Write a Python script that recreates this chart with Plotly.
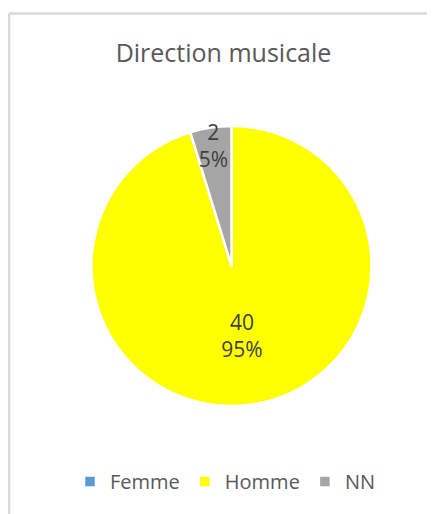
import plotly.graph_objects as go

labels = ["Femme", "Homme", "NN"]
values = [0, 40, 2]
colors = ["#5B9BD5", "#FFFF00", "#A5A5A5"]
title_text = "Direction musicale"

W, H = 435, 514
label_tpl = "%{value}<br>%{percent:.0%}"
templates = ["" if v == 0 else label_tpl for v in values]

fig = go.Figure(go.Pie(
    labels=labels,
    values=values,
    sort=False,
    direction="clockwise",
    rotation=0,
    marker=dict(colors=colors, line=dict(color="white", width=2.5)),
    texttemplate=templates,
    textposition="inside",
    insidetextorientation="horizontal",
    textfont=dict(family="Open Sans", size=21, color="#404040"),
    hoverinfo="label+value+percent",
    domain=dict(x=[83.5 / W, 363.5 / W], y=[1 - 398.5 / H, 1 - 117.5 / H]),
))

fig.update_layout(
    width=W, height=H,
    margin=dict(l=0, r=0, t=0, b=0),
    paper_bgcolor="white",
    plot_bgcolor="white",
    title=dict(text=title_text, x=(223.5 - 8) / W, xanchor="center", y=1 - 45 / H, yanchor="middle",
               font=dict(family="Open Sans", size=25, color="#595959")),
    showlegend=True,
    legend=dict(orientation="h", x=(225 - 8) / W, xanchor="center", y=1 - 473.5 / H, yanchor="middle",
                font=dict(family="Open Sans", size=20, color="#595959"),
                itemwidth=30, traceorder="normal"),
    uniformtext=dict(minsize=18, mode="show"),
    shapes=[
        dict(type="line", xref="paper", yref="paper", x0=1 / W, x1=1.01, y0=1 - 5.5 / H, y1=1 - 5.5 / H,
             line=dict(color="#D9D9D9", width=2.5)),
        dict(type="line", xref="paper", yref="paper", x0=1 / W, x1=1 / W, y0=1 - 5.5 / H, y1=-0.01,
             line=dict(color="#D9D9D9", width=2.5)),
    ],
)

fig.write_html("out.html")
